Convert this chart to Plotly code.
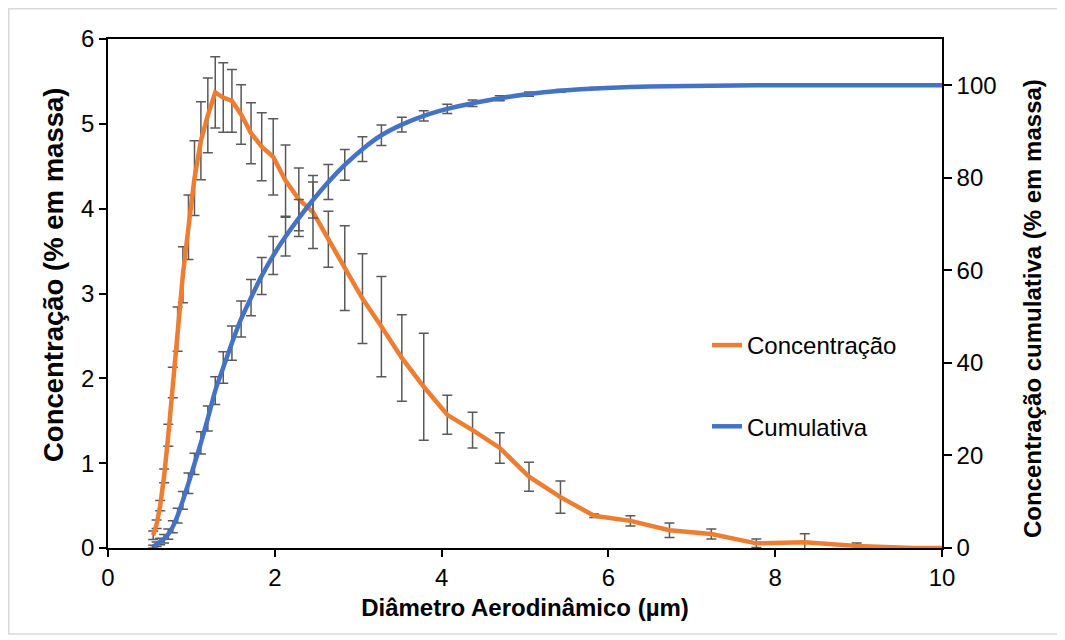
import plotly.graph_objects as go

# ---- data ----
diametro = [0.542, 0.583, 0.626, 0.673, 0.723, 0.777, 0.835, 0.898, 0.965, 1.037,
            1.114, 1.197, 1.286, 1.382, 1.486, 1.596, 1.715, 1.843, 1.981, 2.129,
            2.288, 2.458, 2.642, 2.839, 3.051, 3.278, 3.523, 3.786, 4.068, 4.371,
            4.698, 5.048, 5.425, 5.829, 6.264, 6.732, 7.234, 7.774, 8.354, 8.977,
            9.647, 10.37]

concentracao = [0.15, 0.28, 0.50, 0.85, 1.33, 1.95, 2.58, 3.22, 3.78, 4.36,
                4.80, 5.10, 5.37, 5.31, 5.27, 5.11, 4.89, 4.73, 4.61, 4.33,
                4.11, 3.96, 3.64, 3.30, 2.94, 2.61, 2.24, 1.90, 1.57, 1.39,
                1.18, 0.84, 0.60, 0.38, 0.32, 0.21, 0.165, 0.055, 0.067, 0.025,
                0.0, 0.0]

concentracao_err = [0.05, 0.05, 0.06, 0.08, 0.13, 0.18, 0.26, 0.33, 0.38, 0.44,
                    0.46, 0.44, 0.42, 0.41, 0.37, 0.35, 0.36, 0.40, 0.45, 0.42,
                    0.37, 0.43, 0.33, 0.50, 0.53, 0.59, 0.51, 0.63, 0.23, 0.21,
                    0.18, 0.17, 0.19, 0.02, 0.06, 0.085, 0.06, 0.05, 0.10, 0.035,
                    0.0, 0.0]

cumulativa = [0.3, 0.8, 1.4, 2.0, 3.0, 4.6, 7.0, 10.3, 14.0, 18.2,
              22.7, 28.0, 34.0, 39.0, 44.3, 49.5, 54.1, 58.8, 63.2, 67.3,
              71.3, 75.2, 79.1, 82.8, 86.2, 89.2, 91.5, 93.4, 94.9, 96.1,
              97.2, 98.1, 98.8, 99.3, 99.6, 99.8, 99.9, 100.0, 100.0, 100.0,
              100.0, 100.0]

cumulativa_err = [0.3, 0.5, 0.7, 0.9, 1.1, 1.3, 1.6, 1.9, 2.2, 2.3,
                  2.4, 2.7, 3.0, 3.4, 3.7, 3.9, 3.9, 4.0, 4.1, 4.2,
                  4.0, 3.9, 3.8, 3.3, 2.7, 2.2, 1.6, 1.1, 1.0, 0.7,
                  0.55, 0.45, 0.3, 0.2, 0.1, 0.05, 0.0, 0.0, 0.0, 0.0,
                  0.0, 0.0]

x_ticks = [0, 2, 4, 6, 8, 10]
y_ticks = [0, 1, 2, 3, 4, 5, 6]
y2_ticks = [0, 20, 40, 60, 80, 100]

x_title = "Diâmetro Aerodinâmico (µm)"
y_title = "Concentração (% em massa)"
y2_title = "Concentração cumulativa (% em massa)"

FONT = "Liberation Sans, Arial, Helvetica, sans-serif"
ORANGE = "#ED7D31"
BLUE = "#4472C4"
ERR = "#595959"

# the page body adds an 8px offset, so the figure is 8px smaller and margins
# are measured from that offset
OFF = 8
W, H = 1065 - OFF, 640 - OFF
ML, MR, MT, MB = 108 - OFF, 123, 39 - OFF, 92
PW, PH = W - ML - MR, H - MT - MB


def px_to_paper_x(px):
    """page pixel -> paper coordinate"""
    return (px - OFF - ML) / PW


def px_to_paper_y(py):
    return (H - MB - (py - OFF)) / PH


fig = go.Figure()

fig.add_trace(go.Scatter(
    x=diametro, y=concentracao, name="Concentração", mode="lines",
    line=dict(color=ORANGE, width=4.5),
    error_y=dict(type="data", array=concentracao_err, color=ERR, thickness=1.5, width=5),
    legendgroup="a", xaxis="x", yaxis="y",
))

fig.add_trace(go.Scatter(
    x=diametro, y=cumulativa, name="Cumulativa", mode="lines",
    line=dict(color=BLUE, width=4.5, shape="spline", smoothing=0.6),
    error_y=dict(type="data", array=cumulativa_err, color=ERR, thickness=1.5, width=5),
    legendgroup="b", xaxis="x", yaxis="y2",
))

axis_common = dict(
    showgrid=False, zeroline=False, showline=True, linecolor="black", linewidth=1.5,
    ticks="outside", tickcolor="black", tickwidth=1.5, automargin=False,
    tickfont=dict(family=FONT, size=24, color="black"),
)

fig.update_layout(
    width=W, height=H,
    margin=dict(l=ML, r=MR, t=MT, b=MB, autoexpand=False),
    paper_bgcolor="white", plot_bgcolor="white",
    font=dict(family=FONT, color="black"),
    xaxis=dict(
        **axis_common, range=[0, 10], tickvals=x_ticks, ticklen=7, mirror=True,
        title=dict(text="<b>" + x_title + "</b>",
                   font=dict(family=FONT, size=24, color="black"), standoff=10),
    ),
    yaxis=dict(**axis_common, range=[0, 6], tickvals=y_ticks, ticklen=7),
    yaxis2=dict(
        **axis_common, range=[0, 110], tickvals=y2_ticks, ticklen=8,
        overlaying="y", side="right", anchor="x",
    ),
    # inner half of the "cross" tick marks
    xaxis2=dict(
        overlaying="x", anchor="y", side="bottom", range=[0, 10], tickvals=x_ticks,
        ticks="inside", ticklen=7, tickwidth=1.5, tickcolor="black", automargin=False,
        showticklabels=False, showgrid=False, zeroline=False, showline=False,
    ),
    yaxis3=dict(
        overlaying="y", anchor="x", side="left", range=[0, 6], tickvals=y_ticks,
        ticks="inside", ticklen=7, tickwidth=1.5, tickcolor="black", automargin=False,
        showticklabels=False, showgrid=False, zeroline=False, showline=False,
    ),
    legend=dict(
        x=px_to_paper_x(707), y=px_to_paper_y(323), xanchor="left", yanchor="top",
        font=dict(family=FONT, size=24, color="black"),
        bgcolor="rgba(0,0,0,0)", traceorder="grouped", tracegroupgap=47,
    ),
    showlegend=True,
    annotations=[
        dict(text="<b>" + y_title + "</b>", textangle=-90, showarrow=False,
             xref="paper", yref="paper", x=px_to_paper_x(53), y=px_to_paper_y(275),
             xanchor="center", yanchor="middle",
             font=dict(family=FONT, size=27.5, color="black")),
        dict(text="<b>" + y2_title + "</b>", textangle=-90, showarrow=False,
             xref="paper", yref="paper", x=px_to_paper_x(1032), y=px_to_paper_y(309),
             xanchor="center", yanchor="middle",
             font=dict(family=FONT, size=24, color="black")),
    ],
    shapes=[dict(
        type="rect", xref="paper", yref="paper", layer="below",
        x0=px_to_paper_x(OFF + 0.75), x1=px_to_paper_x(1058),
        y0=px_to_paper_y(634), y1=px_to_paper_y(OFF + 0.75),
        line=dict(color="#D9D9D9", width=1.5), fillcolor="rgba(0,0,0,0)",
    )],
)

fig.write_html("out.html")
